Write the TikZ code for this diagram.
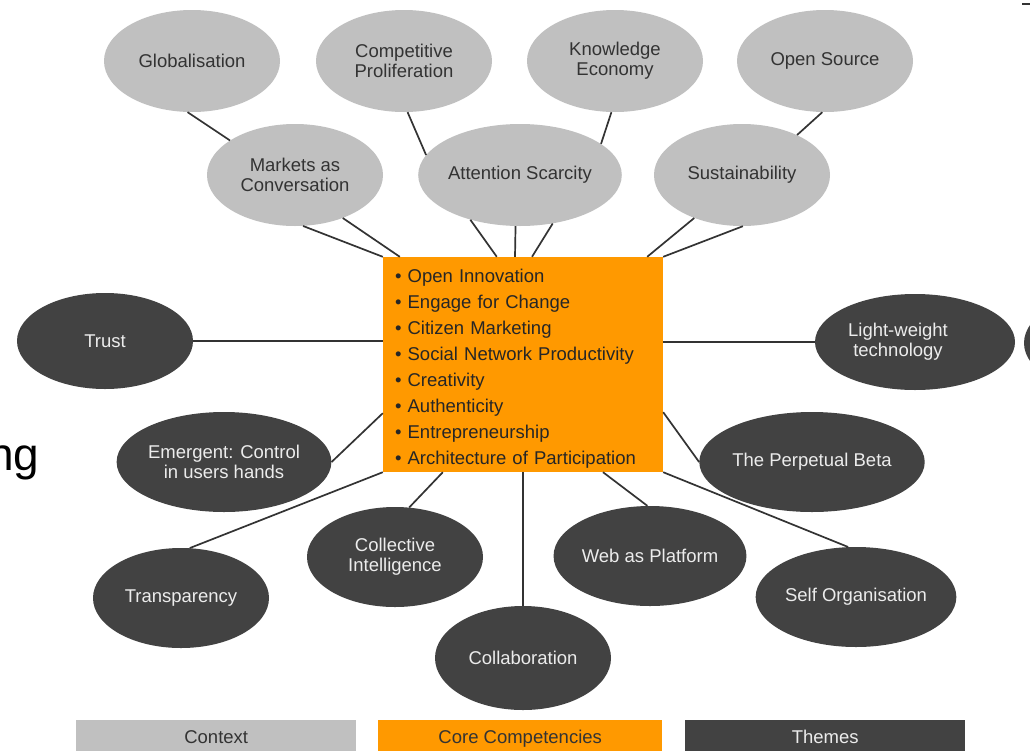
\documentclass[tikz,border=0pt]{standalone}
\usepackage{fontspec}
\setmainfont{Liberation Sans}
\usetikzlibrary{shapes.geometric,calc}
\definecolor{ctxgrey}{HTML}{C0C0C0}
\definecolor{themegrey}{HTML}{424242}
\definecolor{coreorange}{HTML}{FF9900}
\definecolor{lineclr}{HTML}{333333}
\definecolor{darktxt}{HTML}{333333}
\definecolor{lighttxt}{HTML}{ECECEC}
\begin{document}
\begin{tikzpicture}[x=1pt,y=-1pt,
  lbl/.style={font=\fontsize{18.5}{20}\selectfont, align=center},
  ctx/.style={ellipse, fill=ctxgrey, minimum width=176pt, minimum height=102pt, inner sep=0pt, lbl, text=darktxt},
  theme/.style={ellipse, fill=themegrey, minimum width=176pt, minimum height=100pt, inner sep=0pt, lbl, text=lighttxt},
  conn/.style={draw=lineclr, line width=1.7pt},
  legend/.style={anchor=north west, minimum height=32pt, inner sep=0pt, text height=17pt, text depth=3pt, lbl}]
\useasboundingbox (0,0) rectangle (1030,750);
\fill[white] (0,0) rectangle (1030,750);
\clip (0,0) rectangle (1030,750);

% context ellipses
\node[ctx] (glob) at (192,61) {Globalisation};
\node[ctx] (comp) at (404,61) {Competitive\\Proliferation};
\node[ctx] (know) at (615,61) {Knowledge\\Economy};
\node[ctx] (open) at (825,61) {Open Source};
\node[ctx] (mkt) at (295,175) {Markets as\\Conversation};
\node[ctx] (att) at (520,175) {Attention Scarcity};
\node[ctx] (sus) at (742,175) {Sustainability};

% core
\node[rectangle, fill=coreorange, minimum height=215pt, text width=256pt, inner xsep=12pt, inner ysep=0pt,
  align=left, text=black!85, font=\fontsize{18.5}{26}\selectfont] (core) at (523,364.5)
  {\rule{0pt}{21.5pt}\textbullet\ Open Innovation\\
   \textbullet\ Engage for Change\\
   \textbullet\ Citizen Marketing\\
   \textbullet\ Social Network Productivity\\
   \textbullet\ Creativity\\
   \textbullet\ Authenticity\\
   \textbullet\ Entrepreneurship\\
   \textbullet\ Architecture of Participation};

% themes
\node[theme, minimum height=96pt] (trust) at (105,341) {Trust};
\node[theme, minimum width=200pt, minimum height=96pt] (lwt) at (915,342) {};
\node[lbl, text=lighttxt, inner sep=0pt] (lwtt) at (898,342) {Light-weight\\technology};
\node[theme, minimum width=180pt] (cutoff) at (1114,343) {};
\node[theme] (emer) at (224,462) {Emergent: Control\\in users hands};
\node[theme] (trans) at (181,598) {Transparency};
\node[theme] (coll) at (395,557) {Collective\\Intelligence};
\node[theme, minimum height=104pt] (collab) at (523,658) {Collaboration};
\node[theme] (web) at (650,556) {Web as Platform};
\node[theme] (beta) at (812,462) {The Perpetual Beta};
\node[theme] (self) at (856,597) {Self Organisation};

% connectors: context
\draw[conn] (glob.-95) -- (mkt.152);
\draw[conn] (comp.-86) -- (att.168);
\draw[conn] (know.-94) -- (att.21);
\draw[conn] (open.-93) -- (sus.36);
\draw[conn] (mkt.-81) -- (core.north west);
\draw[conn] (mkt.-42) -- ($(core.north west)+(17,0)$);
\draw[conn] (att.-138) -- ($(core.north west)+(114,0)$);
\draw[conn] (att.-95) -- ($(core.north)+(-8,0)$);
\draw[conn] (att.-56) -- ($(core.north)+(9,0)$);
\draw[conn] (sus.-138) -- ($(core.north east)+(-16,0)$);
\draw[conn] (sus.-89) -- (core.north east);

% connectors: themes
\draw[conn] (trust.east) -- (trust.east -| core.west);
\draw[conn] (lwt.west) -- (lwt.west -| core.east);
\draw[conn] (emer.east) -- ($(core.south west)+(0,-59)$);
\draw[conn] (trans.80) -- (core.south west);
\draw[conn] (coll.74) -- ($(core.south west)+(60,0)$);
\draw[conn] (collab.north) -- (core.south);
\draw[conn] (web.93) -- ($(core.south)+(80,0)$);
\draw[conn] (beta.west) -- ($(core.south east)+(0,-60)$);
\draw[conn] (self.99) -- (core.south east);

% legend
\node[legend, fill=ctxgrey, minimum width=280pt, text=darktxt] (legctx) at (76,720) {Context};
\node[legend, fill=coreorange, minimum width=284pt, text=darktxt] (legcore) at (378,720) {Core Competencies};
\node[legend, fill=themegrey, minimum width=280pt, text=lighttxt] (legtheme) at (685,720) {Themes};

% cropped fragments at the edges
\node[anchor=base west, inner sep=0pt, font=\fontsize{46}{50}\selectfont] (ng) at (-12,470) {ng};
\draw[lineclr, line width=1.5pt] (1022,4) -- (1030,4);
\end{tikzpicture}
\end{document}
